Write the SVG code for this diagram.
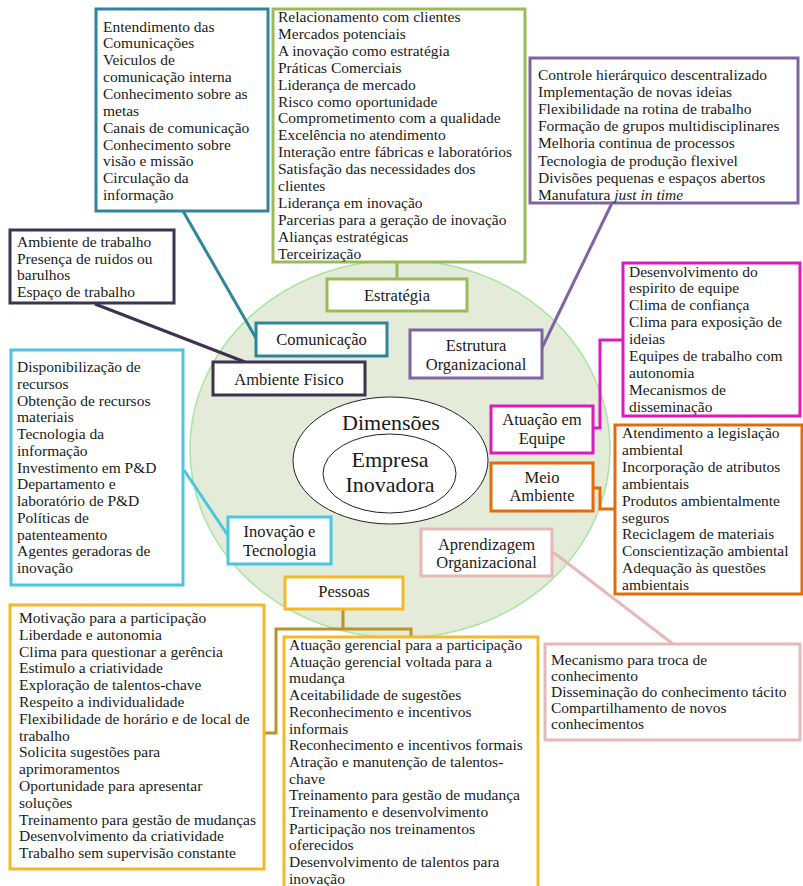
<svg xmlns="http://www.w3.org/2000/svg" width="803" height="886" viewBox="0 0 803 886">
<style>
text{font-family:"Liberation Serif","Times New Roman",serif;fill:#1a1a1a}
.t{font-size:15.5px}
.l{font-size:16.5px;text-anchor:middle}
.c{font-size:22px;text-anchor:middle}
.box{fill:#fff;stroke-width:3}
.con{fill:none;stroke-width:3}
</style>
<rect width="803" height="886" fill="#fff"/>
<g id="background">
<ellipse cx="400" cy="449" rx="210" ry="189" fill="#e5ebd9" stroke="#a6e6a0" stroke-width="1.5"/>
</g>
<g id="connectors">
<path class="con" stroke="#31849b" d="M183,211 L257,340"/>
<path class="con" stroke="#9bbb59" d="M397,262 V279"/>
<path class="con" stroke="#3f3151" d="M95,304 L245,362"/>
<path class="con" stroke="#8064a2" d="M540,352 L612,203"/>
<path class="con" stroke="#d91bc0" d="M593,428 H600 V340 H623"/>
<path class="con" stroke="#e36c09" d="M593,488 H600 V509 H615"/>
<path class="con" stroke="#e6b9b8" d="M553,552 L673,644"/>
<path class="con" stroke="#4bc6e0" d="M184,470 L229,537"/>
<path class="con" stroke="#b8942a" d="M343,609 V629 M264,733 H276 V629 H411 V637"/>
</g>
<g id="center">
<ellipse cx="390.5" cy="460.5" rx="97.5" ry="63.5" fill="#fff" stroke="#222" stroke-width="1"/>
<ellipse cx="389.5" cy="473.5" rx="66.5" ry="39.5" fill="#fff" stroke="#222" stroke-width="1"/>
<text class="c" x="391" y="430">Dimensões</text>
<text class="c" x="390" y="467">Empresa</text>
<text class="c" x="390" y="492">Inovadora</text>
</g>
<g id="comunicacao-list">
<rect class="box" stroke="#31849b" x="96" y="9" width="172" height="202"/>
<text class="t" x="103"><tspan x="103" y="31.5">Entendimento das</tspan><tspan x="103" y="48.4">Comunicações</tspan><tspan x="103" y="65.2">Veiculos de</tspan><tspan x="103" y="82.1">comunicação interna</tspan><tspan x="103" y="98.9">Conhecimento sobre as</tspan><tspan x="103" y="115.8">metas</tspan><tspan x="103" y="132.6">Canais de comunicação</tspan><tspan x="103" y="149.5">Conhecimento sobre</tspan><tspan x="103" y="166.3">visão e missão</tspan><tspan x="103" y="183.2">Circulação da</tspan><tspan x="103" y="200">informação</tspan></text>
</g>
<g id="estrategia-list">
<rect class="box" stroke="#9bbb59" x="273" y="9" width="252" height="253"/>
<text class="t"><tspan x="278" y="22">Relacionamento com clientes</tspan><tspan x="278" y="38.9">Mercados potenciais</tspan><tspan x="278" y="55.8">A inovação como estratégia</tspan><tspan x="278" y="72.7">Práticas Comerciais</tspan><tspan x="278" y="89.6">Liderança de mercado</tspan><tspan x="278" y="106.5">Risco como oportunidade</tspan><tspan x="278" y="123.4">Comprometimento com a qualidade</tspan><tspan x="278" y="140.3">Excelência no atendimento</tspan><tspan x="278" y="157.2">Interação entre fábricas e laboratórios</tspan><tspan x="278" y="174.1">Satisfação das necessidades dos</tspan><tspan x="278" y="191">clientes</tspan><tspan x="278" y="207.9">Liderança em inovação</tspan><tspan x="278" y="224.8">Parcerias para a geração de inovação</tspan><tspan x="278" y="241.7">Alianças estratégicas</tspan><tspan x="278" y="258.6">Terceirização</tspan></text>
</g>
<g id="estrutura-list">
<rect class="box" stroke="#8064a2" x="530" y="58" width="268" height="145"/>
<text class="t"><tspan x="538" y="80">Controle hierárquico descentralizado</tspan><tspan x="538" y="97.1">Implementação de novas ideias</tspan><tspan x="538" y="114.2">Flexibilidade na rotina de trabalho</tspan><tspan x="538" y="131.3">Formação de grupos multidisciplinares</tspan><tspan x="538" y="148.4">Melhoria continua de processos</tspan><tspan x="538" y="165.5">Tecnologia de produção flexivel</tspan><tspan x="538" y="182.6">Divisões pequenas e espaços abertos</tspan><tspan x="538" y="199.7">Manufatura <tspan font-style="italic">just in time</tspan></tspan></text>
</g>
<g id="ambiente-list">
<rect class="box" stroke="#3f3151" x="10" y="230" width="164" height="73"/>
<text class="t"><tspan x="17" y="247">Ambiente de trabalho</tspan><tspan x="17" y="263.5">Presença de ruidos ou</tspan><tspan x="17" y="280">barulhos</tspan><tspan x="17" y="296.5">Espaço de trabalho</tspan></text>
</g>
<g id="inovacao-list">
<rect class="box" stroke="#4bc6e0" x="11" y="350" width="172" height="235"/>
<text class="t"><tspan x="17" y="372">Disponibilização de</tspan><tspan x="17" y="388.8">recursos</tspan><tspan x="17" y="405.5">Obtenção de recursos</tspan><tspan x="17" y="422.3">materiais</tspan><tspan x="17" y="439">Tecnologia da</tspan><tspan x="17" y="455.8">informação</tspan><tspan x="17" y="472.5">Investimento em P&amp;D</tspan><tspan x="17" y="489.3">Departamento e</tspan><tspan x="17" y="506">laboratório de P&amp;D</tspan><tspan x="17" y="522.8">Políticas de</tspan><tspan x="17" y="539.5">patenteamento</tspan><tspan x="17" y="556.3">Agentes geradoras de</tspan><tspan x="17" y="573">inovação</tspan></text>
</g>
<g id="equipe-list">
<rect class="box" stroke="#d91bc0" x="623" y="263" width="177" height="153"/>
<text class="t"><tspan x="629" y="276.5">Desenvolvimento do</tspan><tspan x="629" y="293.4">espirito de equipe</tspan><tspan x="629" y="310.3">Clima de confiança</tspan><tspan x="629" y="327.2">Clima para exposição de</tspan><tspan x="629" y="344.1">ideias</tspan><tspan x="629" y="361">Equipes de trabalho com</tspan><tspan x="629" y="377.9">autonomia</tspan><tspan x="629" y="394.8">Mecanismos de</tspan><tspan x="629" y="411.7">disseminação</tspan></text>
</g>
<g id="meio-ambiente-list">
<rect class="box" stroke="#e36c09" x="615" y="425" width="187" height="169"/>
<text class="t"><tspan x="622" y="438">Atendimento a legislação</tspan><tspan x="622" y="454.9">ambiental</tspan><tspan x="622" y="471.8">Incorporação de atributos</tspan><tspan x="622" y="488.7">ambientais</tspan><tspan x="622" y="505.6">Produtos ambientalmente</tspan><tspan x="622" y="522.5">seguros</tspan><tspan x="622" y="539.4">Reciclagem de materiais</tspan><tspan x="622" y="556.3">Conscientização ambiental</tspan><tspan x="622" y="573.2">Adequação às questões</tspan><tspan x="622" y="590.1">ambientais</tspan></text>
</g>
<g id="aprendizagem-list">
<rect class="box" stroke="#e6b9b8" x="545" y="644" width="255" height="96"/>
<text class="t"><tspan x="551" y="664.5">Mecanismo para troca de</tspan><tspan x="551" y="680.7">conhecimento</tspan><tspan x="551" y="696.9">Disseminação do conhecimento tácito</tspan><tspan x="551" y="713.1">Compartilhamento de novos</tspan><tspan x="551" y="729.3">conhecimentos</tspan></text>
</g>
<g id="pessoas-list-left">
<rect class="box" stroke="#f2b92a" x="10" y="605" width="254" height="264"/>
<text class="t"><tspan x="19" y="623">Motivação para a participação</tspan><tspan x="19" y="639.8">Liberdade e autonomia</tspan><tspan x="19" y="656.6">Clima para questionar a gerência</tspan><tspan x="19" y="673.4">Estimulo a criatividade</tspan><tspan x="19" y="690.2">Exploração de talentos-chave</tspan><tspan x="19" y="707">Respeito a individualidade</tspan><tspan x="19" y="723.8">Flexibilidade de horário e de local de</tspan><tspan x="19" y="740.6">trabalho</tspan><tspan x="19" y="757.4">Solicita sugestões para</tspan><tspan x="19" y="774.2">aprimoramentos</tspan><tspan x="19" y="791">Oportunidade para apresentar</tspan><tspan x="19" y="807.8">soluções</tspan><tspan x="19" y="824.6">Treinamento para gestão de mudanças</tspan><tspan x="19" y="841.4">Desenvolvimento da criatividade</tspan><tspan x="19" y="858.2">Trabalho sem supervisão constante</tspan></text>
</g>
<g id="pessoas-list-right">
<rect class="box" stroke="#f2b92a" x="284" y="637" width="254" height="255"/>
<text class="t"><tspan x="289" y="650">Atuação gerencial para a participação</tspan><tspan x="289" y="666.7">Atuação gerencial voltada para a</tspan><tspan x="289" y="683.4">mudança</tspan><tspan x="289" y="700.1">Aceitabilidade de sugestões</tspan><tspan x="289" y="716.8">Reconhecimento e incentivos</tspan><tspan x="289" y="733.5">informais</tspan><tspan x="289" y="750.2">Reconhecimento e incentivos formais</tspan><tspan x="289" y="766.9">Atração e manutenção de talentos-</tspan><tspan x="289" y="783.6">chave</tspan><tspan x="289" y="800.3">Treinamento para gestão de mudança</tspan><tspan x="289" y="817">Treinamento e desenvolvimento</tspan><tspan x="289" y="833.7">Participação nos treinamentos</tspan><tspan x="289" y="850.4">oferecidos</tspan><tspan x="289" y="867.1">Desenvolvimento de talentos para</tspan><tspan x="289" y="883.8">inovação</tspan></text>
</g>
<g id="estrategia">
<rect class="box" stroke="#9bbb59" x="327" y="279" width="140" height="32"/>
<text class="l" x="397" y="301">Estratégia</text>
</g>
<g id="comunicacao">
<rect class="box" stroke="#31849b" x="256" y="323" width="131" height="33"/>
<text class="l" x="321.5" y="345">Comunicação</text>
</g>
<g id="ambiente-fisico">
<rect class="box" stroke="#3f3151" x="213" y="362" width="152" height="33"/>
<text class="l" x="289" y="384.5">Ambiente Fisico</text>
</g>
<g id="estrutura">
<rect class="box" stroke="#8064a2" x="410" y="330" width="132" height="48"/>
<text class="l" x="476" y="351">Estrutura</text>
<text class="l" x="476" y="369.5">Organizacional</text>
</g>
<g id="equipe">
<rect class="box" stroke="#d91bc0" x="491" y="406" width="102" height="47"/>
<text class="l" x="542" y="425">Atuação em</text>
<text class="l" x="542" y="443.5">Equipe</text>
</g>
<g id="meio-ambiente">
<rect class="box" stroke="#e36c09" x="491" y="463" width="102" height="48"/>
<text class="l" x="542" y="482.5">Meio</text>
<text class="l" x="542" y="501">Ambiente</text>
</g>
<g id="aprendizagem">
<rect class="box" stroke="#e6b9b8" x="421" y="529" width="131" height="47"/>
<text class="l" x="486.5" y="549.5">Aprendizagem</text>
<text class="l" x="486.5" y="568">Organizacional</text>
</g>
<g id="inovacao">
<rect class="box" stroke="#4bc6e0" x="228" y="517" width="103" height="47"/>
<text class="l" x="279.5" y="537">Inovação e</text>
<text class="l" x="279.5" y="555.5">Tecnologia</text>
</g>
<g id="pessoas">
<rect class="box" stroke="#f2b92a" x="285" y="577" width="118" height="32"/>
<text class="l" x="344" y="597">Pessoas</text>
</g>
</svg>
